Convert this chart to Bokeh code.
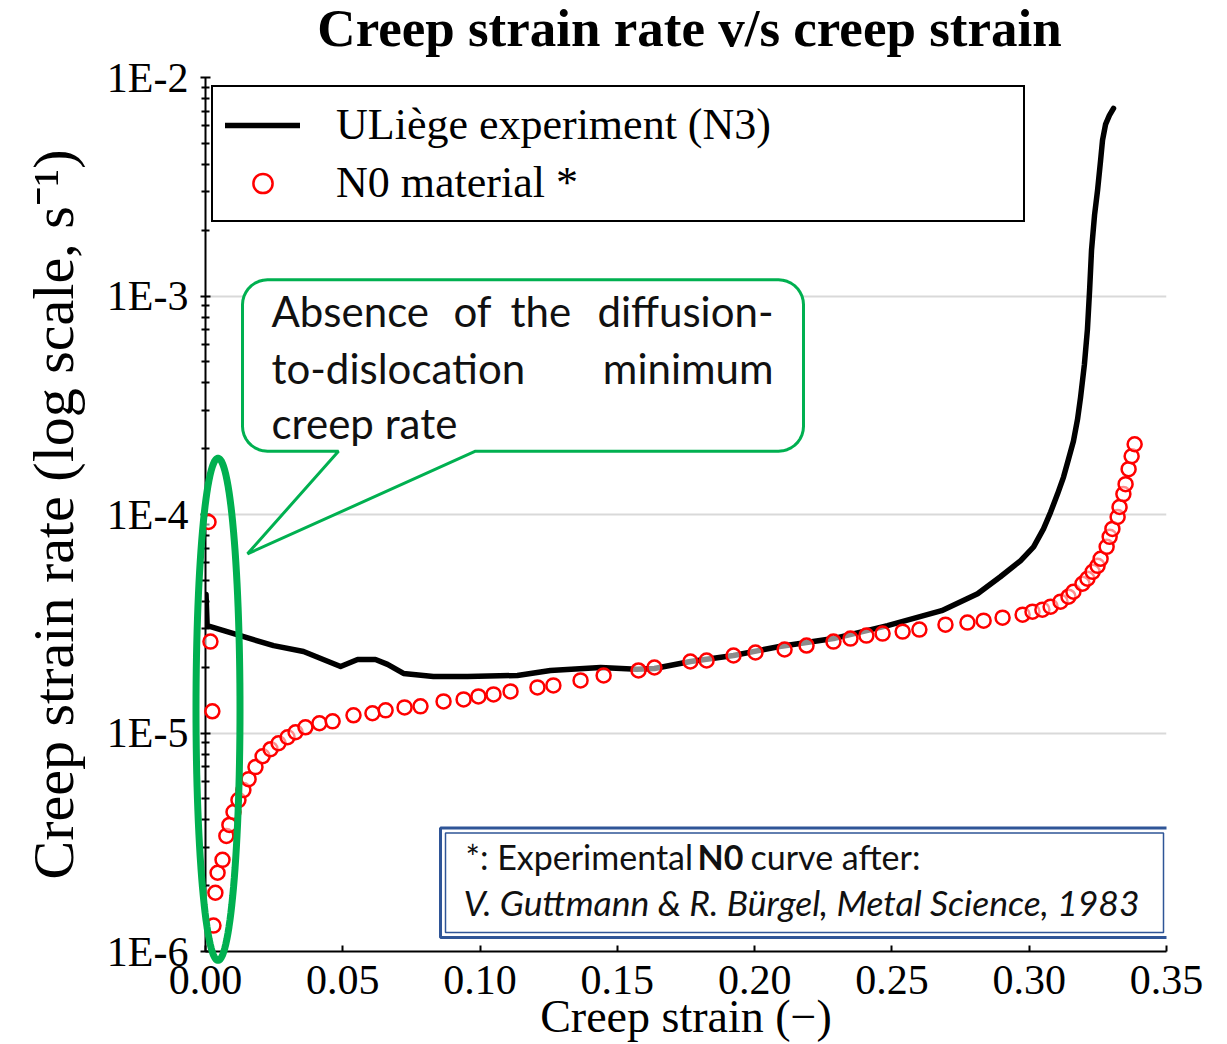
import numpy as np
from bokeh.plotting import figure
from bokeh.models import (Range1d, FixedTicker, CustomJSTickFormatter, PrintfTickFormatter,
                          Legend, LegendItem, Label, BoxAnnotation, PolyAnnotation)
from bokeh.core.properties import value
from bokeh.embed import file_html
from bokeh.resources import INLINE

# ---------------- data ----------------
n3_strain = [0.0002, 0.0006, 0.0127, 0.0248, 0.0357, 0.0492, 0.0554, 0.0619, 0.0663, 0.0721,
             0.0830, 0.0954, 0.1136, 0.1256, 0.1439, 0.1570, 0.1635, 0.1766, 0.1923, 0.2091,
             0.2287, 0.2484, 0.2681, 0.2812, 0.2895, 0.2968, 0.3016, 0.3052, 0.3078, 0.3103,
             0.3125, 0.3143, 0.3161, 0.3176, 0.3187, 0.3201, 0.3212, 0.3220, 0.3227, 0.3238,
             0.3249, 0.3260, 0.3267, 0.3278, 0.3292, 0.3307]
n3_rate = [4.3e-5, 3.10e-5, 2.79e-5, 2.51e-5, 2.36e-5, 2.015e-5, 2.17e-5, 2.17e-5, 2.06e-5, 1.873e-5,
           1.815e-5, 1.815e-5, 1.834e-5, 1.933e-5, 1.995e-5, 1.96e-5, 1.974e-5, 2.125e-5, 2.263e-5, 2.49e-5,
           2.705e-5, 3.10e-5, 3.63e-5, 4.34e-5, 5.19e-5, 6.14e-5, 7.11e-5, 8.59e-5, 1.026e-4, 1.24e-4,
           1.483e-4, 1.791e-4, 2.164e-4, 2.726e-4, 3.435e-4, 4.86e-4, 7.02e-4, 1.068e-3, 1.625e-3, 2.347e-3,
           3.05e-3, 4.18e-3, 5.16e-3, 6.10e-3, 6.71e-3, 7.22e-3]

n0_strain = [0.0011, 0.0018, 0.0025, 0.0029, 0.0036, 0.0044, 0.0062, 0.0076, 0.0087, 0.0102,
             0.0120, 0.0138, 0.0157, 0.0182, 0.0208, 0.0237, 0.0266, 0.0299, 0.0328, 0.0364,
             0.0415, 0.0463, 0.0539, 0.0608, 0.0656, 0.0725, 0.0783, 0.0867, 0.0940, 0.0994,
             0.1049, 0.1111, 0.1209, 0.1267, 0.1366, 0.1450, 0.1577, 0.1635, 0.1766, 0.1825,
             0.1923, 0.2003, 0.2109, 0.2189, 0.2287, 0.2349, 0.2407, 0.2466, 0.2539, 0.2600,
             0.2695, 0.2775, 0.2834, 0.2903, 0.2976, 0.3012, 0.3048, 0.3078, 0.3114, 0.3143,
             0.3161, 0.3194, 0.3212, 0.3231, 0.3249, 0.3260, 0.3282, 0.3293, 0.3303, 0.3322,
             0.3329, 0.3343, 0.3351, 0.3362, 0.3373, 0.3384]
n0_rate = [9.24e-5, 2.62e-5, 1.257e-5, 1.314e-6, 1.858e-6, 2.293e-6, 2.628e-6, 3.381e-6, 3.795e-6, 4.35e-6,
           4.93e-6, 5.48e-6, 6.15e-6, 6.98e-6, 7.83e-6, 8.43e-6, 8.98e-6, 9.56e-6, 1.008e-5, 1.062e-5,
           1.108e-5, 1.131e-5, 1.205e-5, 1.231e-5, 1.270e-5, 1.310e-5, 1.324e-5, 1.395e-5, 1.425e-5, 1.471e-5,
           1.502e-5, 1.550e-5, 1.617e-5, 1.651e-5, 1.740e-5, 1.834e-5, 1.933e-5, 1.995e-5, 2.125e-5, 2.147e-5,
           2.263e-5, 2.335e-5, 2.410e-5, 2.513e-5, 2.62e-5, 2.705e-5, 2.791e-5, 2.851e-5, 2.911e-5, 2.973e-5,
           3.133e-5, 3.20e-5, 3.268e-5, 3.373e-5, 3.481e-5, 3.593e-5, 3.669e-5, 3.786e-5, 3.99e-5, 4.205e-5,
           4.43e-5, 4.82e-5, 5.08e-5, 5.465e-5, 5.82e-5, 6.27e-5, 7.11e-5, 7.90e-5, 8.59e-5, 9.74e-5,
           1.082e-4, 1.240e-4, 1.377e-4, 1.612e-4, 1.848e-4, 2.097e-4]

x_ticks = [0.0, 0.05, 0.10, 0.15, 0.20, 0.25, 0.30, 0.35]
y_ticks = [1e-6, 1e-5, 1e-4, 1e-3, 1e-2]

title_text = "Creep strain rate v/s creep strain"
x_label = "Creep strain (\u2212)"
y_label = "Creep strain rate (log scale, s\u207b\u00b9)"
legend_labels = ["ULiège experiment (N3)", "N0 material *"]

# ---------------- layout ----------------
W, H = 1227, 1044
AX0, AX1, FT, FB = 205, 1166, 77, 954      # pixel positions of x=0, x=0.35, y=1E-2, y=1E-6
X_MIN, X_MAX = 0.0, 0.35
Y_MIN, Y_MAX = 1e-6, 1e-2


def dx(px):
    return X_MIN + (px - AX0) / (AX1 - AX0) * (X_MAX - X_MIN)


def dy(py):
    lo, hi = np.log10(Y_MIN), np.log10(Y_MAX)
    return 10 ** (hi - (py - FT) / (FB - FT) * (hi - lo))


SERIF = "Liberation Serif"
SANS = "Lato"
GREEN = "#00B050"
BLUE = "#2F5597"
INK = "#111111"

p = figure(width=W, height=H, x_range=Range1d(X_MIN, X_MAX), y_range=Range1d(Y_MIN, Y_MAX),
           y_axis_type="log", output_backend="svg", toolbar_location=None,
           min_border_left=AX0, min_border_right=W - AX1, min_border_top=FT,
           min_border_bottom=H - FB)
p.outline_line_color = None
p.background_fill_color = "white"
p.border_fill_color = "white"

# x axis
p.xaxis.ticker = FixedTicker(ticks=x_ticks)
p.xaxis.formatter = PrintfTickFormatter(format="%.2f")
p.xaxis.axis_label = x_label
p.xaxis.axis_label_text_font = SERIF
p.xaxis.axis_label_text_font_size = "46px"
p.xaxis.axis_label_text_font_style = "normal"
p.xaxis.axis_label_text_color = "black"
p.xaxis.axis_label_standoff = -6
p.xaxis.major_label_text_font = SERIF
p.xaxis.major_label_text_font_size = "42px"
p.xaxis.major_label_text_color = "black"
p.xaxis.major_label_standoff = 14
p.xaxis.axis_line_width = 2
p.xaxis.axis_line_color = "black"
p.xaxis.major_tick_in = 6
p.xaxis.major_tick_out = 0
p.xaxis.major_tick_line_width = 2
p.xaxis.major_tick_line_color = "black"
p.xaxis.minor_tick_line_color = None

# y axis
minor = [k * 10.0 ** e for e in range(-6, -2) for k in range(2, 10)]
p.yaxis.ticker = FixedTicker(ticks=y_ticks, minor_ticks=minor)
p.yaxis.formatter = CustomJSTickFormatter(code="return '1E' + Math.round(Math.log10(tick));")
p.yaxis.axis_label = y_label
p.yaxis.axis_label_text_font = SERIF
p.yaxis.axis_label_text_font_size = "58px"
p.yaxis.axis_label_text_font_style = "normal"
p.yaxis.axis_label_text_color = "black"
p.yaxis.axis_label_standoff = 18
p.yaxis.major_label_text_font = SERIF
p.yaxis.major_label_text_font_size = "42px"
p.yaxis.major_label_text_color = "black"
p.yaxis.major_label_standoff = 12
p.yaxis.axis_line_width = 2
p.yaxis.axis_line_color = "black"
p.yaxis.major_tick_in = 5
p.yaxis.major_tick_out = 5
p.yaxis.major_tick_line_width = 2
p.yaxis.major_tick_line_color = "black"
p.yaxis.minor_tick_in = 4
p.yaxis.minor_tick_out = 4
p.yaxis.minor_tick_line_width = 2
p.yaxis.minor_tick_line_color = "black"

p.xgrid.visible = False
p.ygrid.grid_line_color = "#D9D9D9"
p.ygrid.grid_line_width = 2

# chart title, drawn as an unclipped overlay text above the frame
p.text(x=[dx(689)], y=[dy(27)], text=[title_text], text_font=value(SERIF),
       text_font_size="53px", text_font_style="bold", text_align="center",
       text_baseline="alphabetic", text_color="black", level="overlay")

# ---------------- data renderers ----------------
r_line = p.line(n3_strain, n3_rate, line_color="black", line_width=5.5,
                line_join="round", line_cap="round")
r_sc = p.scatter(n0_strain, n0_rate, marker="circle", size=14, line_color="#FF0000",
                 line_width=2.5, fill_color="white", fill_alpha=0.55, level="overlay")

legend = Legend(items=[LegendItem(label=legend_labels[0], renderers=[r_line]),
                       LegendItem(label=legend_labels[1], renderers=[r_sc])],
                location=(211 - AX0, FB - 225), margin=0, padding=12, spacing=7,
                glyph_width=75, glyph_height=48, label_height=48, label_standoff=36,
                label_width=675, label_text_font=SERIF, label_text_font_size="44px",
                label_text_color="black",
                border_line_color="black", border_line_width=2, border_line_alpha=1.0,
                background_fill_color="white", background_fill_alpha=1.0)
p.add_layout(legend)

# ---------------- green ellipse highlight ----------------
t = np.linspace(0, 2 * np.pi, 121)
ell_px = 217.5 + 22 * np.cos(t)
ell_py = 711 + 252 * np.sin(t)
p.line([dx(v) for v in ell_px], [dy(v) for v in ell_py], line_color=GREEN, line_width=7,
       level="overlay")

# ---------------- callout ----------------
L, R, T, B, rad = 242, 803, 280, 452, 25


def arc(cx, cy, a0, a1, n=10):
    a = np.linspace(a0, a1, n)
    return list(cx + rad * np.cos(a)), list(cy + rad * np.sin(a))


cx_, cy_ = [], []
for (ax, ay, a0, a1) in [(R - rad, T + rad, -np.pi / 2, 0), (R - rad, B - rad, 0, np.pi / 2)]:
    xx, yy = arc(ax, ay, a0, a1)
    cx_ += xx
    cy_ += yy
cx_ += [475, 247, 338]
cy_ += [B, 555, B]
for (ax, ay, a0, a1) in [(L + rad, B - rad, np.pi / 2, np.pi), (L + rad, T + rad, np.pi, 1.5 * np.pi)]:
    xx, yy = arc(ax, ay, a0, a1)
    cx_ += xx
    cy_ += yy
p.add_layout(PolyAnnotation(xs=[dx(v) for v in cx_], ys=[dy(v) for v in cy_],
                            line_color=GREEN, line_alpha=1.0, line_width=3,
                            fill_color="white", fill_alpha=1.0))

call_words = [("Absence", 271, 311, "left"), ("of", 453, 311, "left"), ("the", 510, 311, "left"),
              ("diffusion-", 773, 311, "right"), ("to-dislocation", 271, 368, "left"),
              ("minimum", 773, 368, "right"), ("creep rate", 271, 424, "left")]
for txt, px, py, al in call_words:
    p.add_layout(Label(x=dx(px), y=dy(py), text=txt, text_font=SANS, text_font_size="42px",
                       text_align=al, text_baseline="alphabetic", text_color=INK))

# ---------------- reference box ----------------
p.add_layout(BoxAnnotation(left=dx(440), right=dx(1168), top=dy(830), bottom=dy(940),
                           fill_color="white", fill_alpha=1.0, line_color=BLUE,
                           line_alpha=1.0, line_width=3))
p.add_layout(BoxAnnotation(left=dx(445), right=dx(1163), top=dy(835), bottom=dy(935),
                           fill_alpha=0.0, line_color=BLUE, line_alpha=1.0, line_width=1.5))
ref_parts = [("*: Experimental", 465, "normal"), ("N0", 697, "bold"), ("curve after:", 750, "normal")]
for txt, px, st in ref_parts:
    p.add_layout(Label(x=dx(px), y=dy(859), text=txt, text_font=SANS, text_font_size="34px",
                       text_font_style=st, text_baseline="alphabetic", text_color=INK))
p.add_layout(Label(x=dx(463), y=dy(905), text="V. Guttmann & R. Bürgel, Metal Science, 1983",
                   text_font=SANS, text_font_size="35.5px", text_font_style="italic",
                   text_baseline="alphabetic", text_color=INK))

open("out.html", "w").write(file_html(p, INLINE))
